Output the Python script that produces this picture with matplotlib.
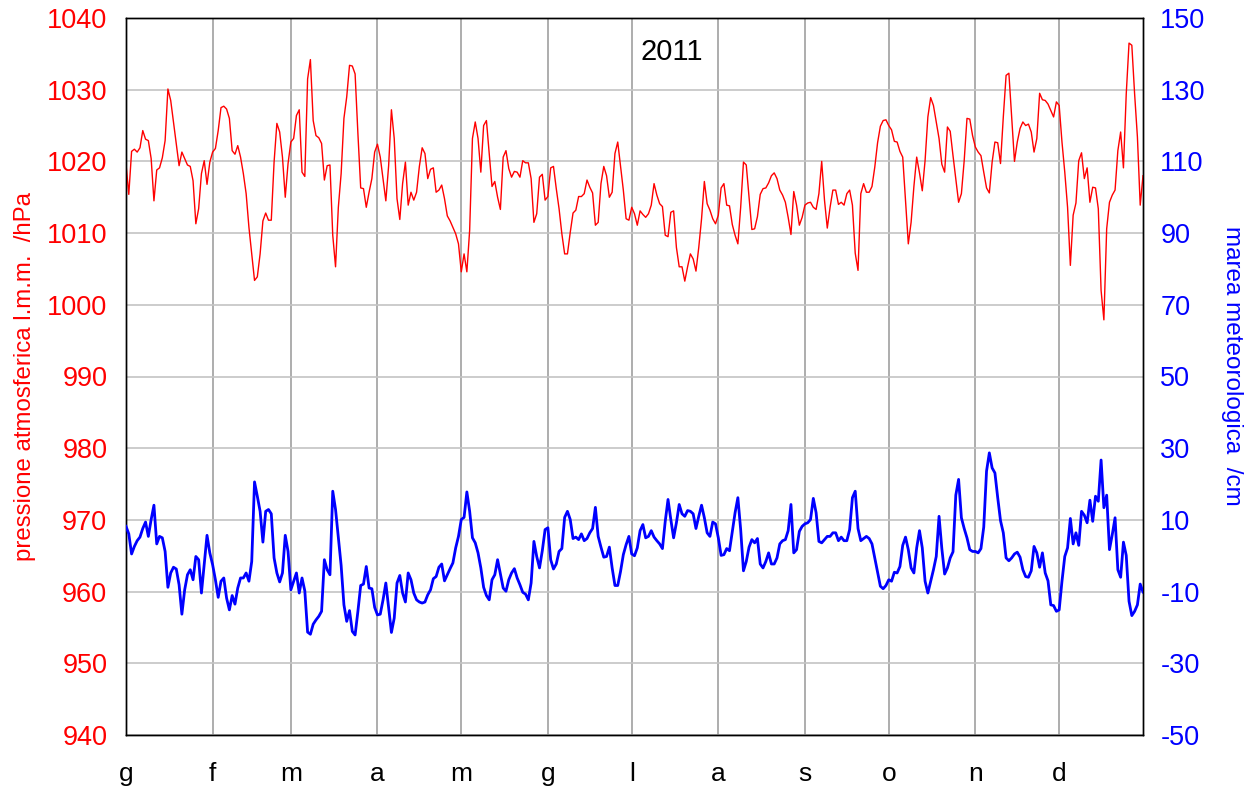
import numpy as np
import matplotlib
matplotlib.use("Agg")
import matplotlib.pyplot as plt

plt.rcParams['font.family'] = ['Liberation Sans', 'DejaVu Sans']
plt.rcParams['axes.unicode_minus'] = False

anno = "2011"
mesi = ["g", "f", "m", "a", "m", "g", "l", "a", "s", "o", "n", "d"]
giorni_mese = [31, 28, 31, 30, 31, 30, 31, 31, 30, 31, 30, 31]

# pressione atmosferica giornaliera (hPa)
pressione = [
    1019.6, 1015.4, 1021.4, 1021.7, 1021.3, 1021.9, 1024.3, 1023.1, 1022.9, 1020.4,
    1014.5, 1018.8, 1019.1, 1020.5, 1022.9, 1030.1, 1028.5, 1025.5, 1022.5, 1019.4,
    1021.3, 1020.4, 1019.5, 1019.3, 1017.3, 1011.3, 1013.4, 1018.3, 1020.1, 1016.8,
    1019.9, 1021.3, 1021.8, 1024.3, 1027.5, 1027.7, 1027.3, 1026.0, 1021.5, 1021.0,
    1022.2, 1020.6, 1018.3, 1015.5, 1010.8, 1007.1, 1003.4, 1003.9, 1007.1, 1011.7,
    1012.8, 1011.8, 1011.8, 1019.9, 1025.3, 1024.1, 1020.6, 1015.0, 1019.7, 1022.7,
    1023.2, 1026.4, 1027.2,
    1018.5, 1017.9, 1031.5, 1034.2, 1025.7, 1023.6, 1023.3, 1022.5, 1017.4, 1019.4,
    1019.5, 1009.7, 1005.3, 1013.6, 1018.3, 1026.0, 1029.0, 1033.4, 1033.3, 1032.2,
    1023.9, 1016.3, 1016.2, 1013.6, 1015.7, 1017.6, 1021.3, 1022.4, 1020.6, 1017.6,
    1014.5, 1019.4, 1027.2, 1023.2, 1014.8, 1011.9, 1016.9, 1019.9, 1013.9, 1015.7,
    1014.6, 1015.7, 1019.3, 1021.9, 1021.1, 1017.6, 1018.9, 1019.1, 1015.7, 1016.0,
    1016.7, 1014.8, 1012.4, 1011.7, 1010.8, 1009.9, 1008.5, 1004.6, 1007.1, 1004.6,
    1010.4, 1023.2, 1025.5,
    1023.2, 1018.5, 1025.0, 1025.7, 1021.1, 1016.5, 1017.2, 1015.0, 1013.3, 1020.6,
    1021.5, 1019.0, 1017.8, 1018.6, 1018.5, 1017.8, 1020.1, 1019.8, 1019.8, 1017.6,
    1011.5, 1012.7, 1017.8, 1018.2, 1014.6, 1015.1, 1019.1, 1019.3, 1016.2, 1013.4,
    1009.9, 1007.1, 1007.1, 1010.1, 1012.8, 1013.2, 1015.1, 1015.1, 1015.5, 1017.4,
    1016.4, 1015.6, 1011.1, 1011.5, 1016.9, 1019.3, 1018.0, 1015.0, 1015.7, 1021.1,
    1022.7, 1019.4, 1016.0, 1012.0, 1011.8, 1013.6, 1012.7, 1011.1, 1013.1, 1012.6,
    1012.2,
    1012.7, 1013.9, 1016.9, 1015.3, 1014.1, 1013.7, 1009.7, 1009.5, 1012.9, 1013.1,
    1008.0, 1005.3, 1005.3, 1003.3, 1005.3, 1007.1, 1006.4, 1004.7, 1008.0, 1012.0,
    1017.2, 1014.1, 1013.2, 1012.0, 1011.3, 1012.5, 1016.3, 1016.9, 1013.9, 1013.8,
    1011.2, 1009.7, 1008.5, 1013.6, 1019.9, 1019.5, 1015.0, 1010.5, 1010.6, 1012.3,
    1015.4, 1016.2, 1016.3, 1017.0, 1018.0, 1018.4, 1017.6, 1016.0, 1015.3, 1014.3,
    1012.2, 1009.8, 1015.8, 1013.9, 1011.1, 1012.2, 1013.9, 1014.2, 1014.3, 1013.6,
    1013.3,
    1015.5, 1020.0, 1014.6, 1010.7, 1013.6, 1016.0, 1016.0, 1014.0, 1014.3, 1013.9,
    1015.5, 1016.0, 1013.9, 1007.2, 1004.8, 1015.5, 1016.9, 1015.7, 1015.7, 1016.5,
    1019.2, 1022.6, 1024.9, 1025.7, 1025.8, 1025.0, 1024.4, 1022.8, 1022.7, 1021.4,
    1020.6, 1014.6, 1008.5, 1011.5, 1016.5, 1020.6, 1018.4, 1015.9, 1020.1, 1026.2,
    1028.9, 1027.8, 1025.5, 1023.2, 1019.6, 1018.5, 1024.8, 1024.2, 1020.8, 1017.6,
    1014.3, 1015.5, 1020.1, 1026.0, 1025.9, 1023.6, 1022.0, 1021.3, 1020.8, 1018.5,
    1016.3, 1015.6, 1019.9, 1022.7, 1022.6, 1019.7, 1026.2, 1032.0, 1032.3, 1026.2,
    1020.0, 1022.7, 1024.6, 1025.5, 1025.0, 1025.2, 1024.1, 1021.3, 1023.2, 1029.5,
    1028.6, 1028.5, 1028.0, 1027.1, 1026.2, 1028.3, 1027.8, 1022.7, 1018.5, 1013.6,
    1005.5, 1012.5, 1014.2, 1020.1, 1021.2, 1017.6, 1019.1, 1014.3, 1016.4, 1016.3,
    1013.4, 1002.0, 997.9, 1010.6, 1014.3, 1015.3, 1016.0, 1021.5, 1024.1, 1019.1,
    1029.4, 1036.5, 1036.2, 1029.4, 1023.4, 1013.9, 1018.0,
]

# marea meteorologica giornaliera (cm)
marea = [
    8.2, 6.1, 0.5, 2.6, 4.2, 5.2, 7.6, 9.4, 5.4, 10.1,
    14.1, 3.3, 5.4, 5.0, 1.2, -8.8, -4.8, -3.2, -3.7, -8.1,
    -16.3, -9.5, -5.3, -3.9, -6.7, -0.2, -1.1, -10.4, -2.5, 5.7,
    0.8, -2.5, -6.7, -11.6, -7.1, -6.2, -11.8, -15.1, -11.1, -13.5,
    -9.0, -6.2, -6.2, -4.8, -7.1, -1.6, 20.6, 16.6, 12.4, 3.8,
    12.4, 12.9, 11.7, -0.6, -4.8, -7.3, -4.8, 5.7, 1.2, -9.5,
    -7.1, -4.8, -10.4,
    -6.2, -9.8, -21.3, -21.9, -19.1, -17.9, -16.9, -15.5, -1.1, -3.9,
    -5.3, 18.0, 12.9, 5.0, -2.7, -13.7, -18.3, -15.3, -21.1, -22.1,
    -15.5, -8.3, -7.9, -3.0, -9.0, -9.2, -14.4, -16.5, -16.3, -12.3,
    -7.6, -14.6, -21.4, -17.4, -7.6, -5.5, -10.4, -12.9, -4.8, -6.7,
    -10.4, -12.3, -12.9, -13.2, -12.9, -10.9, -9.5, -6.4, -5.8, -3.2,
    -2.3, -7.0, -5.3, -3.6, -2.0, 2.2, 5.4, 10.1, 10.7, 17.8,
    12.4, 5.0, 3.6,
    0.8, -3.4, -8.8, -11.1, -12.3, -6.7, -5.3, -1.1, -5.1, -9.0,
    -9.9, -6.7, -4.8, -3.6, -6.2, -8.1, -10.2, -10.7, -12.3, -7.6,
    4.0, -0.2, -3.4, 1.4, 7.3, 7.8, -1.1, -3.7, -2.3, 1.2,
    2.0, 10.7, 12.4, 10.1, 4.8, 5.2, 4.5, 6.1, 4.2, 4.8,
    6.4, 7.6, 13.5, 5.4, 2.4, -0.4, -0.2, 2.4, -3.4, -8.3,
    -8.3, -4.4, 0.3, 3.1, 5.4, 0.5, 0.0, 2.2, 7.0, 8.7,
    5.0,
    5.4, 7.0, 5.2, 4.2, 3.3, 2.0, 9.6, 15.7, 10.1, 5.0,
    9.2, 14.3, 11.7, 11.0, 12.6, 12.4, 11.7, 7.6, 11.0, 14.1,
    10.6, 6.4, 5.4, 9.4, 8.9, 5.0, 0.1, 0.3, 2.0, 1.4,
    6.8, 12.0, 16.2, 7.3, -4.2, -1.6, 2.4, 4.5, 3.6, 4.8,
    -2.3, -3.4, -1.6, 0.8, -2.3, -2.3, -0.6, 3.3, 4.2, 4.5,
    7.0, 14.3, 0.8, 1.7, 6.8, 8.2, 8.9, 9.2, 10.1, 16.0,
    12.0, 4.0, 3.6, 4.5, 5.4, 5.4, 6.4, 6.4, 4.2, 5.2,
    4.2, 4.2, 7.3, 16.2, 18.0, 7.6, 4.2, 4.8, 5.4, 4.8,
    3.3, -0.6, -4.5, -8.5, -9.2, -8.3, -6.7, -7.1, -4.6, -4.8,
    -3.0, 2.9, 5.2, 1.7, -3.4, -4.8, 2.2, 7.0, 2.2, -7.1,
    -10.4, -7.1, -3.9, -0.2, 11.0, 2.0, -5.1, -3.4, -0.6, 1.1,
    16.9, 21.3, 10.6, 7.6, 5.0, 1.7, 1.2, 1.2, 0.8, 2.0,
    8.0,
    23.6, 28.7, 24.5, 23.1, 16.2, 9.8, 6.4, -0.6, -1.4, -0.6,
    0.5, 1.0, -0.4, -3.9, -5.8, -6.0, -4.2, 2.6, 0.8, -3.2,
    0.8, -4.8, -7.0, -13.7, -13.9, -15.5, -15.1, -7.1, -0.2, 2.2,
    10.4, 3.3, 6.4, 2.9, 12.4, 11.3, 9.2, 15.5, 9.6, 16.6,
    15.2, 26.7, 13.4, 16.9, 1.7, 5.9, 10.6, -3.9, -6.0, 3.8,
    0.1, -12.7, -16.7, -15.5, -13.7, -7.9, -10.1,
]

W, H = 1258, 787
fig = plt.figure(figsize=(W / 100, H / 100), dpi=100)
ax = fig.add_axes([126 / W, 1 - 735 / H, (1143 - 126) / W, (735 - 18) / H])

x_p = np.arange(len(pressione))
ax.plot(x_p, pressione, color='#ff0000', lw=1.0, zorder=3)
ax.set_xlim(0, 364)
ax.set_ylim(940, 1040)
ax.set_yticks(np.arange(940, 1041, 10))

inizi = np.concatenate([[0], np.cumsum(giorni_mese)[:-1]])
ax.set_xticks(inizi)
ax.set_xticklabels(mesi)
ax.tick_params(axis='x', length=0, pad=19.5, labelsize=19)
ax.tick_params(axis='y', length=0, pad=13.5, labelsize=19.5, labelcolor='#ff0000')

ax.grid(axis='y', color='#c4c4c4', lw=1.2, zorder=0)
ax.grid(axis='x', color='#a0a0a0', lw=1.2, zorder=0)
ax.set_axisbelow(True)

for s in ax.spines.values():
    s.set_color('black')
    s.set_linewidth(1.0)

ax.set_ylabel('pressione atmosferica l.m.m.  /hPa', color='#ff0000', fontsize=17.3, labelpad=8)
ax.text(0.537, 0.953, anno, transform=ax.transAxes, ha='center', va='center', fontsize=21)

ax2 = ax.twinx()
x_m = np.arange(len(marea))
ax2.plot(x_m, marea, color='#0000ff', lw=2.0, zorder=3)
ax2.set_ylim(-50, 150)
ax2.set_yticks(np.arange(-50, 151, 20))
ax2.tick_params(axis='y', length=0, pad=12.5, labelsize=19.5, labelcolor='#0000ff')
ax2.set_ylabel('marea meteorologica  /cm', color='#0000ff', fontsize=17.5, rotation=-90,
               labelpad=27)
ax2.yaxis.label.set_y(0.515)
for s in ax2.spines.values():
    s.set_color('black')
    s.set_linewidth(1.0)

fig.savefig('out.png', dpi=100)
